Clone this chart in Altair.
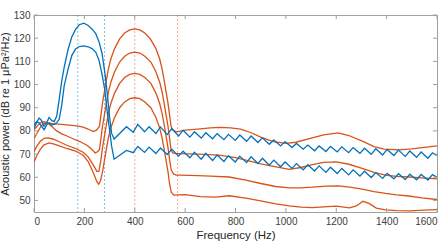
import altair as alt
import pandas as pd

# ---------------- data ----------------
x_ticks = [0, 200, 400, 600, 800, 1000, 1200, 1400, 1600]
y_ticks = [50, 60, 70, 80, 90, 100, 110, 120, 130]

guide_freq = [174, 280, 400, 570]
guide_group = ["blue", "blue", "orange", "orange"]

blue_freq = [0, 10, 20, 30, 40, 50, 60, 70, 80, 90, 100, 110, 120, 135, 150, 165, 180, 198,
             215, 230, 245, 258, 270, 282, 292, 300, 308, 318, 340,
             367, 394, 412, 439, 457, 484, 502, 529, 547, 574, 592, 619, 637, 664, 682, 709,
             727, 754, 772, 799, 817, 844, 862, 889, 907, 934, 952, 979, 997, 1024, 1042, 1069,
             1087, 1114, 1132, 1159, 1177, 1204, 1222, 1249, 1267, 1294, 1312, 1339, 1357, 1384,
             1402, 1429, 1447, 1474, 1492, 1519, 1537, 1564, 1582, 1600]

blue_a_db = [81.0, 83.5, 85.5, 84.5, 82.0, 83.5, 85.8, 84.5, 84.0, 86.3, 93.5, 101.5, 107.5, 115.0, 120.5, 123.8, 125.8, 126.5,
             125.5, 124.0, 122.0, 118.5, 113.5, 104.5, 95.0, 86.0, 79.0, 76.5, 78.9,
             81.8, 79.4, 82.8, 79.6, 81.8, 78.9, 81.7, 78.4, 81.0, 77.8, 80.3, 77.3, 79.6, 76.9, 79.2, 76.6,
             78.8, 76.2, 78.5, 75.9, 78.2, 75.5, 77.8, 75.0, 77.0, 74.2, 76.1, 73.5, 75.4, 72.8, 74.6, 72.1,
             73.9, 71.4, 73.5, 71.1, 73.3, 70.9, 73.1, 70.6, 72.8, 70.3, 72.5, 69.9, 72.3, 69.6,
             72.0, 69.4, 71.7, 69.0, 71.3, 68.6, 70.9, 68.2, 70.5, 69.4]

blue_b_db = [82.5, 84.0, 83.5, 82.0, 80.5, 82.5, 83.5, 82.5, 82.8, 83.5, 85.0, 91.0, 99.5, 106.5, 112.5, 115.3, 116.4, 116.7,
             116.3, 115.5, 114.0, 110.5, 104.5, 97.0, 87.0, 80.5, 73.5, 67.8, 69.5,
             71.6, 70.6, 73.3, 70.7, 73.0, 70.2, 72.6, 69.8, 72.1, 69.1, 71.2, 68.4, 70.8, 67.8, 70.3, 67.2,
             69.6, 66.8, 69.3, 66.6, 69.1, 66.3, 68.8, 65.9, 68.2, 65.2, 67.4, 64.5, 66.6, 63.8, 65.9, 63.2,
             65.4, 62.7, 64.9, 62.1, 64.3, 61.6, 63.8, 61.0, 63.2, 60.5, 62.6, 59.9, 62.0, 59.5,
             61.7, 59.3, 61.5, 59.0, 61.3, 58.9, 61.2, 58.8, 61.1, 60.0]

o1_freq = [0, 12, 25, 40, 55, 80, 110, 140, 170, 195, 215, 235, 248, 260, 266, 272, 279, 286, 295, 305,
           320, 340, 360, 380, 400, 420, 440, 462, 484, 499, 509, 518, 525, 532, 538, 544, 552, 565,
           600, 650, 700, 740, 780, 820, 860, 900, 950, 1000, 1040, 1090, 1150, 1207, 1250, 1306,
           1350, 1390, 1450, 1500, 1550, 1600]
o1_db = [80.5, 82.0, 83.5, 84.0, 83.5, 83.0, 82.8, 82.5, 82.2, 81.6, 80.8, 79.7, 80.3, 82.0, 87.0, 92.0, 96.5, 101.0, 106.5, 111.0,
         115.5, 119.7, 122.2, 123.6, 124.0, 123.6, 122.2, 119.7, 115.5, 111.0, 106.5, 101.0, 96.5, 92.0, 87.0, 82.0, 80.3, 79.6,
         80.3, 80.8, 81.3, 81.5, 81.3, 80.8, 79.3, 77.3, 75.4, 74.6, 75.1, 76.5, 78.3, 79.1, 78.0, 75.5,
         73.2, 72.1, 71.8, 72.2, 72.9, 73.5]

o2_freq = [0, 12, 25, 40, 55, 70, 90, 110, 131, 155, 184, 210, 225, 243, 252, 260, 266, 272, 279, 286,
           295, 305, 320, 340, 360, 380, 400, 420, 440, 464, 484, 499, 509, 518, 525, 532, 538, 544,
           550, 565, 577, 650, 735, 800, 841, 900, 946, 1013, 1060, 1105, 1150, 1200, 1250, 1303,
           1350, 1396, 1440, 1488, 1540, 1600]
o2_db = [76.7, 79.0, 81.5, 83.3, 83.3, 82.0, 80.0, 78.7, 77.8, 76.6, 75.3, 73.8, 72.5, 70.5, 71.0, 72.0, 77.0, 82.0, 86.5, 91.0,
         96.5, 101.0, 105.5, 109.7, 112.2, 113.6, 114.0, 113.6, 112.2, 109.7, 105.5, 101.0, 96.5, 91.0, 86.5, 82.0, 77.0, 72.0,
         70.5, 70.2, 70.2, 70.0, 69.5, 68.5, 67.4, 65.8, 64.8, 63.4, 64.2, 65.4, 66.4, 66.6, 65.6, 63.8,
         62.1, 60.9, 60.4, 60.1, 59.7, 59.3]

o3_freq = [0, 12, 25, 40, 55, 75, 100, 130, 165, 195, 215, 235, 250, 258, 266, 272, 279, 286, 295, 305,
           320, 340, 360, 380, 400, 420, 440, 464, 484, 499, 509, 518, 525, 532, 538, 545, 555, 565,
           580, 650, 700, 775, 841, 900, 960, 1013, 1060, 1105, 1160, 1210, 1260, 1303, 1350, 1396,
           1440, 1488, 1540, 1600]
o3_db = [71.0, 73.5, 75.5, 76.8, 77.0, 76.5, 75.3, 73.8, 72.4, 70.8, 68.8, 65.3, 62.5, 62.6, 67.8, 72.8, 77.3, 81.8, 87.3, 91.8,
         96.3, 100.5, 103.0, 104.4, 104.8, 104.4, 103.0, 100.5, 96.3, 91.8, 87.3, 81.8, 77.3, 72.8, 67.8, 63.0, 61.3, 60.9,
         60.9, 60.7, 60.5, 60.1, 58.8, 57.3, 56.0, 55.4, 55.4, 55.7, 56.2, 56.3, 55.6, 54.9, 53.8, 53.0,
         52.4, 51.9, 51.1, 50.4]

o4_freq = [0, 12, 25, 40, 60, 80, 100, 130, 165, 195, 215, 235, 250, 257, 264, 272, 279, 286, 295, 305,
           320, 340, 360, 380, 400, 420, 440, 464, 484, 499, 509, 518, 525, 532, 538, 545, 555,
           600, 660, 720, 775, 841, 900, 960, 1013, 1060, 1105, 1150, 1200, 1253, 1280, 1306, 1330,
           1359, 1396, 1440, 1490, 1550, 1600]
o4_db = [66.6, 69.5, 72.0, 74.0, 74.8, 74.3, 73.5, 72.4, 71.3, 69.5, 66.8, 62.0, 58.0, 57.0, 58.5, 62.3, 66.8, 71.3, 76.8, 81.3,
         85.8, 90.0, 92.5, 93.9, 94.3, 93.9, 92.5, 90.0, 85.8, 81.3, 76.8, 71.3, 66.8, 62.3, 57.3, 53.5, 52.3,
         52.5, 51.6, 51.4, 52.0, 51.0, 49.8, 48.5, 47.6, 47.1, 46.9, 47.2, 47.5, 46.8, 47.6, 49.6, 48.7,
         46.7, 45.9, 45.6, 45.5, 45.8, 46.0]

# ---------------- tables ----------------
curves = [
    ("o1", "orange", o1_freq, o1_db),
    ("o2", "orange", o2_freq, o2_db),
    ("o3", "orange", o3_freq, o3_db),
    ("o4", "orange", o4_freq, o4_db),
    ("b1", "blue", blue_freq, blue_a_db),
    ("b2", "blue", blue_freq, blue_b_db),
]
rows = []
for name, grp, fs, ds in curves:
    for f, d in zip(fs, ds):
        rows.append({"curve": name, "group": grp, "f": f, "db": d})
df = pd.DataFrame(rows)

gdf = pd.DataFrame({"f": guide_freq, "group": guide_group})
xt = pd.DataFrame({"f": x_ticks})
yt = pd.DataFrame({"db": y_ticks})

W, H = 403, 197
AX = "#a0a0a0"
TXT = "#404040"
FONT = "Liberation Sans"

xs = alt.Scale(domain=[0, 1600], nice=False, zero=False)
ys = alt.Scale(domain=[45, 130], nice=False, zero=False)
cs = alt.Scale(domain=["blue", "orange"], range=["#0072BD", "#D95319"])

x_axis = alt.Axis(values=x_ticks, title="Frequency (Hz)", ticks=False, domain=False,
                  grid=False, labelPadding=4, titlePadding=3, labelFontSize=10,
                  titleFontSize=11.5, titleFontWeight="normal", labelColor=TXT,
                  titleColor="#262626", labelFont=FONT, titleFont=FONT, format="d")
y_axis = alt.Axis(values=y_ticks, title="Acoustic power (dB re 1 μPa²/Hz)", ticks=False,
                  domain=False, grid=False, labelPadding=4, titlePadding=3, labelFontSize=10,
                  titleFontSize=11, titleFontWeight="normal", labelColor=TXT,
                  titleColor="#262626", labelFont=FONT, titleFont=FONT)

X = alt.X("f:Q", scale=xs, axis=x_axis)
Y = alt.Y("db:Q", scale=ys, axis=y_axis)

guides = alt.Chart(gdf).mark_rule(strokeDash=[2, 2], strokeWidth=1, opacity=0.45).encode(
    x=X,
    color=alt.Color("group:N", scale=cs, legend=None),
)

lines = alt.Chart(df).mark_line(strokeWidth=1.3, clip=True, interpolate="linear").encode(
    x=X, y=Y,
    color=alt.Color("group:N", scale=cs, legend=None),
    detail="curve:N",
)

tick_b = alt.Chart(xt).mark_rule(color=AX, strokeWidth=1).encode(
    x=X, y=alt.value(H), y2=alt.value(H - 4))
tick_t = alt.Chart(xt).mark_rule(color=AX, strokeWidth=1).encode(
    x=X, y=alt.value(0), y2=alt.value(4))
tick_l = alt.Chart(yt).mark_rule(color=AX, strokeWidth=1).encode(
    y=Y, x=alt.value(0), x2=alt.value(4))
tick_r = alt.Chart(yt).mark_rule(color=AX, strokeWidth=1).encode(
    y=Y, x=alt.value(W), x2=alt.value(W - 4))

chart = alt.layer(guides, lines, tick_b, tick_t, tick_l, tick_r).properties(
    width=W, height=H,
    autosize=alt.AutoSizeParams(type="none"),
    padding={"left": 34, "top": 15, "right": 11, "bottom": 40},
    background="white",
).configure_view(stroke=AX, strokeWidth=1)

chart.save("out.html", embed_options={"renderer": "svg", "actions": False})
